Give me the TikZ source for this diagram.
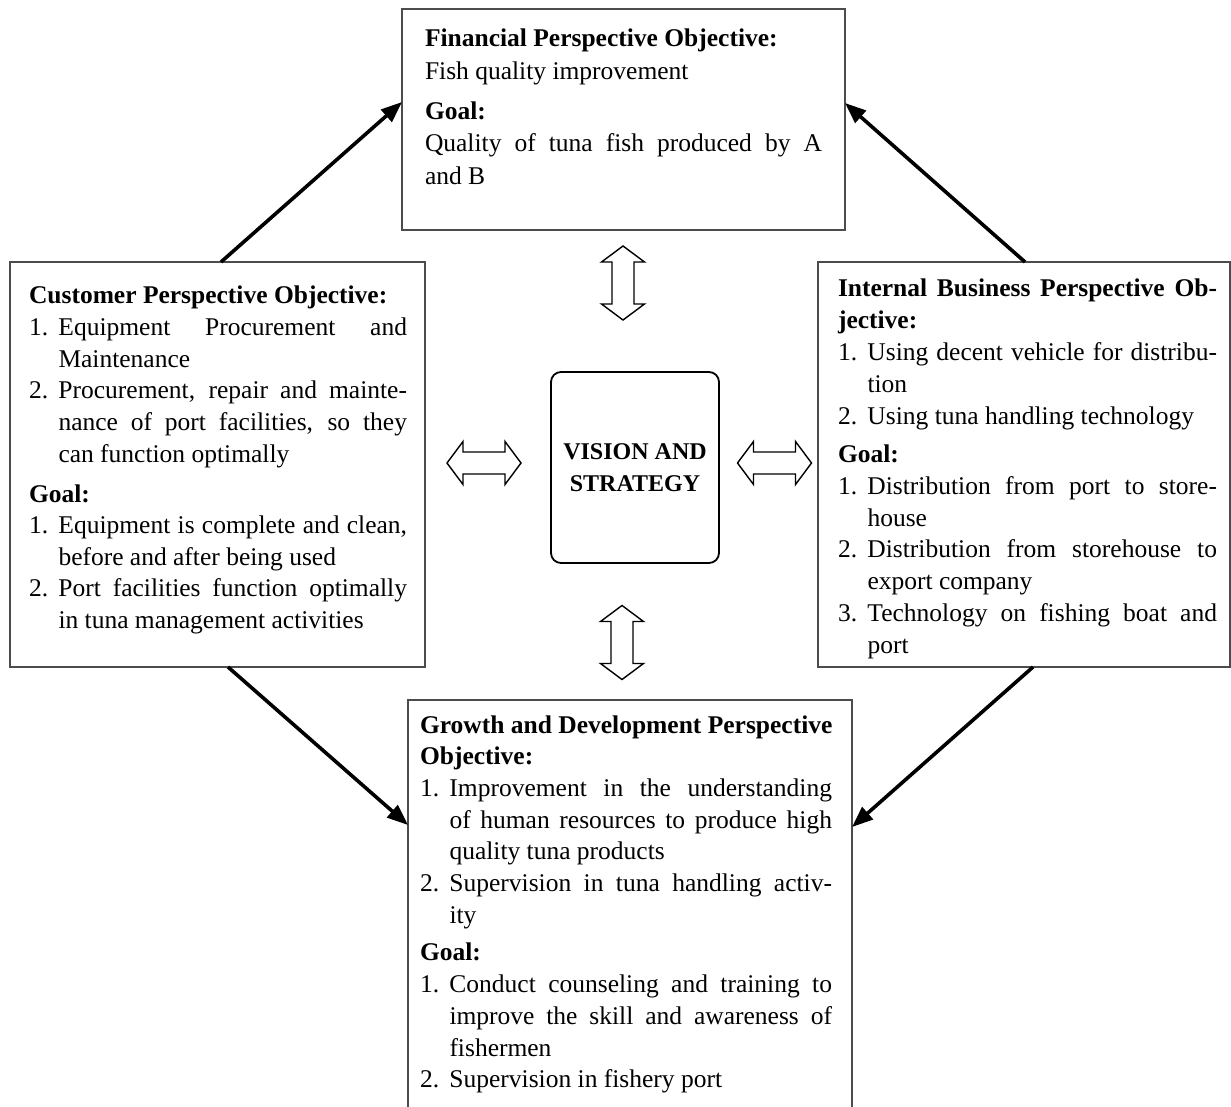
\documentclass[tikz,border=0pt]{standalone}
\usepackage{fontspec}
\setmainfont{Liberation Serif}
\usetikzlibrary{arrows.meta}
\newlength\itind \setlength\itind{29.5pt}
\newcommand\blk[3]{\vtop{\hsize=#1\relax\linewidth=#1\relax\parindent=0pt\parskip=0pt\lineskiplimit=-100pt\fontsize{25.5pt}{#2}\selectfont #3}}
\newcommand\jline[1]{\makebox[\linewidth][s]{#1}\par}
\newcommand\rline[1]{\makebox[\linewidth][l]{#1}\par}
\newcommand\ijline[2]{\makebox[\linewidth][s]{\makebox[\itind][l]{#1}#2}\par}
\newcommand\irline[2]{\makebox[\linewidth][l]{\makebox[\itind][l]{#1}#2}\par}
\newcommand\cjline[1]{\makebox[\linewidth][s]{\hspace*{\itind}#1}\par}
\newcommand\crline[1]{\makebox[\linewidth][l]{\hspace*{\itind}#1}\par}
\begin{document}
\begin{tikzpicture}[x=1pt,y=-1pt,
  pbox/.style={draw=black!70,line width=1.2pt,rectangle,anchor=north west,inner sep=0pt,outer sep=0pt},
  txt/.style={anchor=base west,inner sep=0pt,outer sep=0pt},
  bigarrow/.style={line width=3.6pt,-{Triangle[length=21pt,width=16pt]}},
  hollow/.style={draw=black,line width=1.4pt,fill=white,line join=miter},
  dblarrow/.pic={\path[hollow] (-37,0) -- (-21,-21.5) -- (-21,-11) -- (21,-11) -- (21,-21.5) -- (37,0) -- (21,21.5) -- (21,11) -- (-21,11) -- (-21,21.5) -- cycle;}
]
\useasboundingbox (0,0) rectangle (1231,1107);
\clip (0,0) rectangle (1231,1107);
\fill[white] (0,0) rectangle (1231,1107);

% boxes
\node[pbox,minimum width=443pt,minimum height=221pt] (fin) at (402,9) {};
\node[pbox,minimum width=415pt,minimum height=405pt] (cust) at (10,262) {};
\node[pbox,minimum width=412pt,minimum height=405pt] (int) at (818,262) {};
\node[pbox,minimum width=444pt,minimum height=420pt] (grow) at (408,700) {};
\node[draw=black,line width=1.8pt,rounded corners=10pt,minimum width=168pt,minimum height=191pt,align=center,
  font=\bfseries\fontsize{24pt}{32pt}\selectfont,inner sep=0pt] (vis) at (635,467.5) {VISION AND\\STRATEGY};

% texts
\node[txt] (fintext) at (425,47) {\blk{397pt}{32.5pt}{%
\rline{\textbf{Financial Perspective Objective:}}
\rline{Fish quality improvement}
\vspace{7.5pt}
\rline{\textbf{Goal:}}
\jline{Quality of tuna fish produced by A}
\rline{and B}}};

\node[txt] (custtext) at (29,304) {\blk{378pt}{31.6pt}{%
\rline{\textbf{Customer Perspective Objective:}}
\ijline{1.}{Equipment Procurement and}
\crline{Maintenance}
\ijline{2.}{Procurement, repair and mainte-}
\cjline{nance of port facilities, so they}
\crline{can function optimally}
\vspace{8.5pt}
\rline{\textbf{Goal:}}
\ijline{1.}{Equipment is complete and clean,}
\crline{before and after being used}
\ijline{2.}{Port facilities function optimally}
\crline{in tuna management activities}}};

\node[txt] (inttext) at (838,297) {\blk{379pt}{31.8pt}{%
\jline{\textbf{Internal Business Perspective Ob-}}
\rline{\textbf{jective:}}
\ijline{1.}{Using decent vehicle for distribu-}
\crline{tion}
\irline{2.}{Using tuna handling technology}
\vspace{6.5pt}
\rline{\textbf{Goal:}}
\ijline{1.}{Distribution from port to store-}
\crline{house}
\ijline{2.}{Distribution from storehouse to}
\crline{export company}
\ijline{3.}{Technology on fishing boat and}
\crline{port}}};

\node[txt] (growtext) at (420,733) {\blk{412pt}{31.7pt}{%
\rline{\textbf{Growth and Development Perspective}}
\rline{\textbf{Objective:}}
\ijline{1.}{Improvement in the understanding}
\cjline{of human resources to produce high}
\crline{quality tuna products}
\ijline{2.}{Supervision in tuna handling activ-}
\crline{ity}
\vspace{6pt}
\rline{\textbf{Goal:}}
\ijline{1.}{Conduct counseling and training to}
\cjline{improve the skill and awareness of}
\crline{fishermen}
\irline{2.}{Supervision in fishery port}}};

% hollow double arrows
\pic[rotate=90] at (623,283) {dblarrow};
\pic[rotate=90] at (622,642.5) {dblarrow};
\pic at (484,463) {dblarrow};
\pic at (774.5,463) {dblarrow};

% thick arrows
\draw[bigarrow] ([xshift=211pt]cust.north west) -- ([yshift=-93pt]fin.north west);
\draw[bigarrow] ([xshift=207pt]int.north west) -- ([yshift=-94pt]fin.north east);
\draw[bigarrow] ([xshift=218pt]cust.south west) -- ([yshift=-125pt]grow.north west);
\draw[bigarrow] ([xshift=215pt]int.south west) -- ([yshift=-127pt]grow.north east);
\end{tikzpicture}
\end{document}
